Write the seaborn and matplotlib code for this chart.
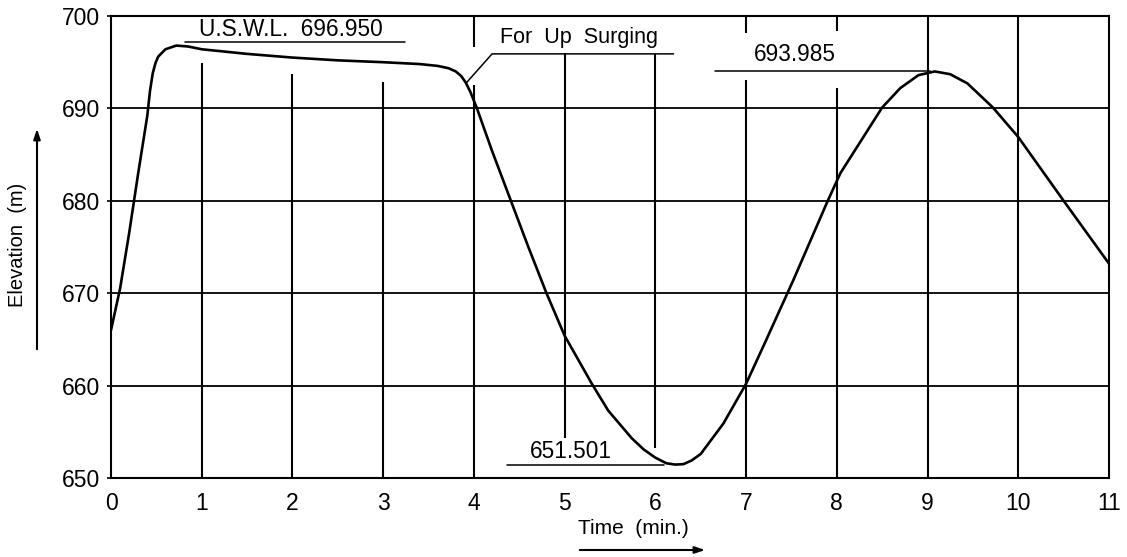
import numpy as np
import pandas as pd
import seaborn as sns
import matplotlib
matplotlib.use("Agg")
import matplotlib.pyplot as plt

# ---------------- data ----------------
time_min = [0.00, 0.10, 0.20, 0.30, 0.40, 0.43, 0.46, 0.49, 0.52, 0.60,
            0.72, 0.85, 1.00, 1.50, 2.00, 2.50, 3.00, 3.40, 3.60, 3.72,
            3.80, 3.86, 3.91, 3.96, 4.03, 4.20, 4.40, 4.60, 4.80, 5.00,
            5.30, 5.48, 5.74, 5.87, 6.00, 6.12, 6.22, 6.31, 6.40, 6.50,
            6.75, 7.00, 7.22, 7.52, 7.90, 8.04, 8.50, 8.70, 8.90, 9.08,
            9.25, 9.44, 9.72, 10.00, 10.50, 11.00]
elevation_m = [666.0, 670.5, 676.5, 683.0, 689.2, 691.9, 693.8, 694.9, 695.6, 696.4,
               696.8, 696.7, 696.4, 695.9, 695.5, 695.2, 695.0, 694.8, 694.6, 694.35,
               694.0, 693.5, 692.8, 691.8, 690.1, 685.4, 680.2, 675.0, 670.0, 665.4,
               660.2, 657.3, 654.3, 653.1, 652.2, 651.6, 651.45, 651.5, 651.9, 652.6,
               655.9, 660.2, 664.9, 671.4, 680.0, 683.0, 690.1, 692.2, 693.6, 694.0,
               693.7, 692.7, 690.1, 686.9, 680.0, 673.2]

x_ticks = list(range(0, 12))
y_ticks = [650, 660, 670, 680, 690, 700]
x_label = "Time  (min.)"
y_label = "Elevation  (m)"
usw_text = "U.S.W.L.  696.950"
surge_text = "For  Up  Surging"
max2_text = "693.985"
min_text = "651.501"

# ---------------- styling ----------------
sns.set_theme(style="white")
plt.rcParams['font.family'] = ['Liberation Sans', 'DejaVu Sans']

W, H = 1127, 557
fig = plt.figure(figsize=(W / 100, H / 100), dpi=100)
fig.patch.set_facecolor("white")
ax = fig.add_axes([111 / W, 1 - 478 / H, (1109 - 111) / W, (478 - 16) / H])
ax.set_facecolor("white")

df = pd.DataFrame({"Time": time_min, "Elevation": elevation_m})
sns.lineplot(data=df, x="Time", y="Elevation", ax=ax, color="black",
             linewidth=1.9, sort=False, zorder=5)

ax.set_xlim(0, 11)
ax.set_ylim(650, 700)
ax.set_xticks(x_ticks)
ax.set_yticks(y_ticks)
ax.set_xticklabels([str(v) for v in x_ticks])
ax.set_yticklabels([str(v) for v in y_ticks])
ax.tick_params(axis="y", left=True, length=3, width=1.2, pad=5,
               labelsize=16.5, colors="black")
ax.tick_params(axis="x", bottom=False, length=0, pad=10,
               labelsize=16.5, colors="black")
ax.set_xlabel("")
ax.set_ylabel("")
for s in ax.spines.values():
    s.set_color("black")
    s.set_linewidth(1.5)

# horizontal grid lines
for yv in y_ticks[1:-1]:
    ax.axhline(yv, color="black", lw=1.3, zorder=2)

# vertical grid lines (with the gaps left around labels in the reference)
vgrid = {
    1: [(650, 694.9)],
    2: [(650, 693.7)],
    3: [(650, 692.9)],
    4: [(650, 692.5), (696.6, 700)],
    5: [(654.3, 696.0)],
    6: [(653.3, 695.9)],
    7: [(650, 693.1), (698.2, 700)],
    8: [(650, 692.2), (698.4, 700)],
    9: [(650, 700)],
    10: [(650, 700)],
}
for xv, segs in vgrid.items():
    for y0, y1 in segs:
        ax.vlines(xv, y0, y1, color="black", lw=1.5, zorder=2)

# annotations
ax.text(1.98, 698.5, usw_text, ha="center", va="center", fontsize=16.3, color="black")
ax.plot([0.82, 3.24], [697.2, 697.2], color="black", lw=1.1)

ax.text(5.16, 697.7, surge_text, ha="center", va="center", fontsize=15.5, color="black")
ax.plot([3.92, 4.2, 6.2], [692.8, 695.9, 695.9], color="black", lw=1.1, zorder=4)

ax.text(7.54, 695.8, max2_text, ha="center", va="center", fontsize=16.3, color="black")
ax.plot([6.66, 9.03], [694.0, 694.0], color="black", lw=1.1)

ax.text(5.07, 652.9, min_text, ha="center", va="center", fontsize=16.3, color="black")
ax.plot([4.37, 6.09], [651.4, 651.4], color="black", lw=1.1)

# axis titles with arrows
fig.text(18 / W, 1 - 245 / H, y_label, rotation=90, ha="center", va="center",
         fontsize=14.5, color="black")
fig.add_artist(matplotlib.patches.FancyArrowPatch(
    (37 / W, 1 - 352 / H), (37 / W, 1 - 126 / H), transform=fig.transFigure,
    arrowstyle="-|>,head_length=6,head_width=2", color="black", lw=1.5))

fig.text(633 / W, 1 - 529 / H, x_label, ha="center", va="center",
         fontsize=15, color="black")
fig.add_artist(matplotlib.patches.FancyArrowPatch(
    (577 / W, 1 - 550 / H), (708 / W, 1 - 550 / H), transform=fig.transFigure,
    arrowstyle="-|>,head_length=6,head_width=2", color="black", lw=1.5))

fig.savefig("out.png", dpi=100, facecolor="white")
